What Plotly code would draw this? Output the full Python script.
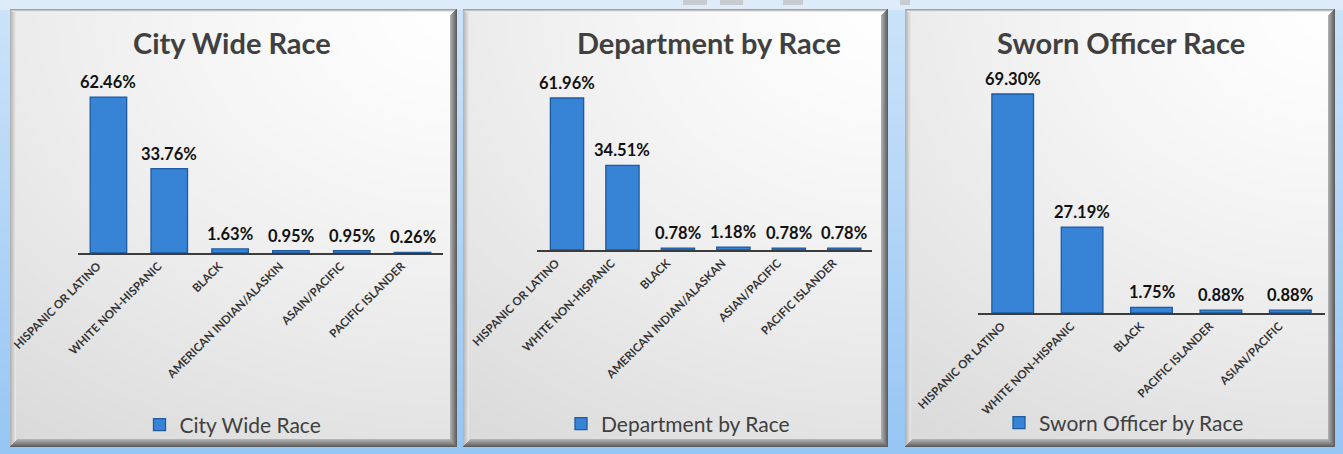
import base64
import struct
import zlib

import numpy as np
import plotly.graph_objects as go

# ---- data -------------------------------------------------------------
city_cats = ["HISPANIC OR LATINO", "WHITE NON-HISPANIC", "BLACK",
             "AMERICAN INDIAN/ALASKIN", "ASAIN/PACIFIC", "PACIFIC ISLANDER"]
city_vals = [62.46, 33.76, 1.63, 0.95, 0.95, 0.26]

dept_cats = ["HISPANIC OR LATINO", "WHITE NON-HISPANIC", "BLACK",
             "AMERICAN INDIAN/ALASKAN", "ASIAN/PACIFIC", "PACIFIC ISLANDER"]
dept_vals = [61.96, 34.51, 0.78, 1.18, 0.78, 0.78]

sworn_cats = ["HISPANIC OR LATINO", "WHITE NON-HISPANIC", "BLACK",
              "PACIFIC ISLANDER", "ASIAN/PACIFIC"]
sworn_vals = [69.30, 27.19, 1.75, 0.88, 0.88]

titles = ["City Wide Race", "Department by Race", "Sworn Officer Race"]
series_names = ["City Wide Race", "Department by Race", "Sworn Officer by Race"]

# ---- canvas / layout geometry (pixels) ---------------------------------
W, H = 1343, 454
FONT = "Lato"
BAR = "#3784d6"
BAR_EDGE = "#1d5aa0"

# panel frames: x0, y0, x1, y1
panels = [(10, 9, 457, 447), (463, 9, 888, 447), (905, 9, 1335, 447)]
# plot areas: x0, x1, baseline, top, px-per-unit
plots = [(78, 443, 253, 60, 2.497), (537, 872, 250, 60, 2.453),
         (978, 1325, 313, 60, 3.16)]
title_pos = [(232, 42), (709, 42), (1121, 42)]
legend_pos = [(233, 425), (678, 424), (1124, 423)]


def png_uri(arr):
    h, w, _ = arr.shape
    raw = b"".join(b"\x00" + arr[r].tobytes() for r in range(h))

    def chunk(tag, data):
        body = tag + data
        return (struct.pack(">I", len(data)) + body
                + struct.pack(">I", zlib.crc32(body) & 0xFFFFFFFF))

    png = (b"\x89PNG\r\n\x1a\n"
           + chunk(b"IHDR", struct.pack(">IIBBBBB", w, h, 8, 2, 0, 0, 0))
           + chunk(b"IDAT", zlib.compress(raw, 9))
           + chunk(b"IEND", b""))
    return "data:image/png;base64," + base64.b64encode(png).decode()


def backdrop():
    yy, xx = np.mgrid[0:H, 0:W].astype(float)
    # sky-blue page background, paler toward the top
    t = yy / H
    top = np.array([205, 228, 250.0])
    bot = np.array([150, 198, 244.0])
    img = top[None, None, :] * (1 - t[..., None]) + bot[None, None, :] * t[..., None]
    img[t < 0.022] = [222, 236, 250]
    # small grey tabs along the top edge
    for x0, x1 in [(683, 707), (720, 743), (783, 803), (900, 910)]:
        img[0:5, x0:x1] = [200, 203, 208]

    for (x0, y0, x1, y1) in panels:
        pw, ph = x1 - x0, y1 - y0
        sy, sx = np.mgrid[0:ph, 0:pw].astype(float)
        xr, yr = sx / pw, sy / ph
        d = np.sqrt(((1 - xr) * 0.75) ** 2 + (yr * 1.0) ** 2) / 1.25
        v = 255 - 38 * np.clip(d, 0, 1) ** 1.3
        face = np.stack([v, v, v], axis=-1)
        # bevel: light top/left, dark right/bottom
        L, R, B, T = 6, 7, 8, 3
        for i in range(L):
            c = 180 + i * 10
            face[:, i] = [c, c, c]
        for i in range(T):
            c = 160 + i * 35
            face[i, i:] = [c, c, c]
        for i in range(R):
            c = 95 + i * 13
            face[i:ph - i, pw - 1 - i] = [c, c, c]
        for i in range(B):
            c = 95 + i * 12
            face[ph - 1 - i, i:pw - i] = [c, c, c]
        img[y0:y1, x0:x1] = face
    return png_uri(np.clip(img, 0, 255).astype(np.uint8))


fig = go.Figure()

datasets = [(city_cats, city_vals), (dept_cats, dept_vals), (sworn_cats, sworn_vals)]
annotations = []
layout_extra = {}

for i, ((cats, vals), (px0, px1, base, ptop, scale)) in enumerate(zip(datasets, plots)):
    n = "" if i == 0 else str(i + 1)
    leg = "legend" if i == 0 else f"legend{i + 1}"
    fig.add_trace(go.Bar(
        x=cats, y=vals, name=series_names[i],
        xaxis=f"x{n}", yaxis=f"y{n}", legend=leg,
        marker=dict(color=BAR, line=dict(color=BAR_EDGE, width=1.3)),
        hoverinfo="x+y", showlegend=True,
    ))
    y_top = (base - ptop) / scale
    layout_extra[f"xaxis{n}"] = dict(
        domain=[px0 / W, px1 / W], anchor=f"y{n}", automargin=False,
        showline=True, linecolor="#3c3c3c", linewidth=2,
        showgrid=False, zeroline=False, ticks="",
        tickangle=-45, ticklabelshift=-11,
        tickfont=dict(family=FONT, size=11.5, color="#333333", weight="bold"),
        fixedrange=True,
    )
    layout_extra[f"yaxis{n}"] = dict(
        domain=[1 - base / H, 1 - ptop / H], anchor=f"x{n}", automargin=False,
        range=[0, y_top], visible=False, fixedrange=True,
    )
    for c, v in zip(cats, vals):
        annotations.append(dict(
            x=c, y=v, xref=f"x{n}", yref=f"y{n}", text=f"{v:.2f}%",
            showarrow=False, yanchor="bottom", yshift=3,
            font=dict(family=FONT, size=16.5, color="#111111", weight="bold"),
        ))
    tx, ty = title_pos[i]
    annotations.append(dict(
        x=tx / W, y=1 - ty / H, xref="paper", yref="paper", text=titles[i],
        showarrow=False, xanchor="center", yanchor="middle",
        font=dict(family=FONT, size=29, color="#404040", weight="bold"),
    ))
    lx, ly = legend_pos[i]
    layout_extra[leg] = dict(
        x=lx / W, y=1 - ly / H, xanchor="center", yanchor="middle",
        orientation="h", bgcolor="rgba(0,0,0,0)", itemwidth=30,
        font=dict(family=FONT, size=21, color="#404040"),
    )

fig.update_layout(
    width=W, height=H,
    margin=dict(l=0, r=0, t=0, b=0, autoexpand=False),
    paper_bgcolor="#b4d6f7",
    plot_bgcolor="rgba(0,0,0,0)",
    bargap=0.4,
    annotations=annotations,
    images=[dict(source=backdrop(), xref="paper", yref="paper", x=0, y=1,
                 sizex=1, sizey=1, xanchor="left", yanchor="top",
                 sizing="stretch", layer="below")],
    **layout_extra,
)

fig.write_html("out.html", config={"displayModeBar": False})
